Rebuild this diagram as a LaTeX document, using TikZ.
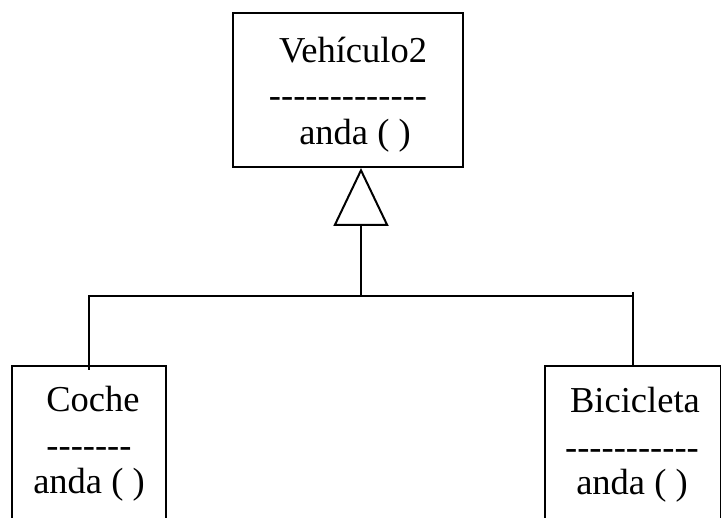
\documentclass[tikz,border=0pt]{standalone}
\usepackage{fontspec}
\setmainfont{Liberation Serif}
\usetikzlibrary{arrows.meta,calc}
\newcommand\dashrow[1]{\foreach \i in {1,...,#1}{\hbox{-}}}
\begin{document}
\begin{tikzpicture}[x=1pt,y=-1pt,
  classbox/.style={draw,line width=2pt,rectangle,inner sep=0pt},
  txt/.style={anchor=base,inner sep=0pt,font=\fontsize{36.5}{44}\selectfont},
  conn/.style={line width=2pt}]
\clip (0,0) rectangle (721,518);
% boxes
\node[classbox,minimum width=230pt,minimum height=154pt] (sup) at (348,90) {};
\node[classbox,minimum width=154pt,minimum height=300pt] (coche) at (89,516) {};
\node[classbox,minimum width=175.5pt,minimum height=300pt] (bici) at (632.75,516) {};
% texts
\node[txt] (t1) at (353,63) {Vehículo2};
\node[txt] (d1) at (348,108) {\dashrow{13}};
\node[txt] (m1) at (355,145) {anda ( )};
\node[txt] (t2) at (93,412) {Coche};
\node[txt] (d2) at (89,458) {\dashrow{7}};
\node[txt] (m2) at (89,494) {anda ( )};
\node[txt] (t3) at (635,413) {Bicicleta};
\node[txt] (d3) at (632,460) {\dashrow{11}};
\node[txt] (m3) at (632,495) {anda ( )};
% connectors
\coordinate (j) at (361,296);
\coordinate (lj) at (coche.north |- j);
\coordinate (rj) at (633,296);
\coordinate (rtop) at (633,292);
\coordinate (lbot) at (89,370);
\coordinate (rbot) at (633,366);
\draw[conn,-{Triangle[open,length=58pt,width=55pt,line width=2pt]}] (j) -- (j |- sup.south);
\draw[conn] (lbot) -- (lj) -- (rj);
\draw[conn] (rtop) -- (rbot);
\end{tikzpicture}
\end{document}
